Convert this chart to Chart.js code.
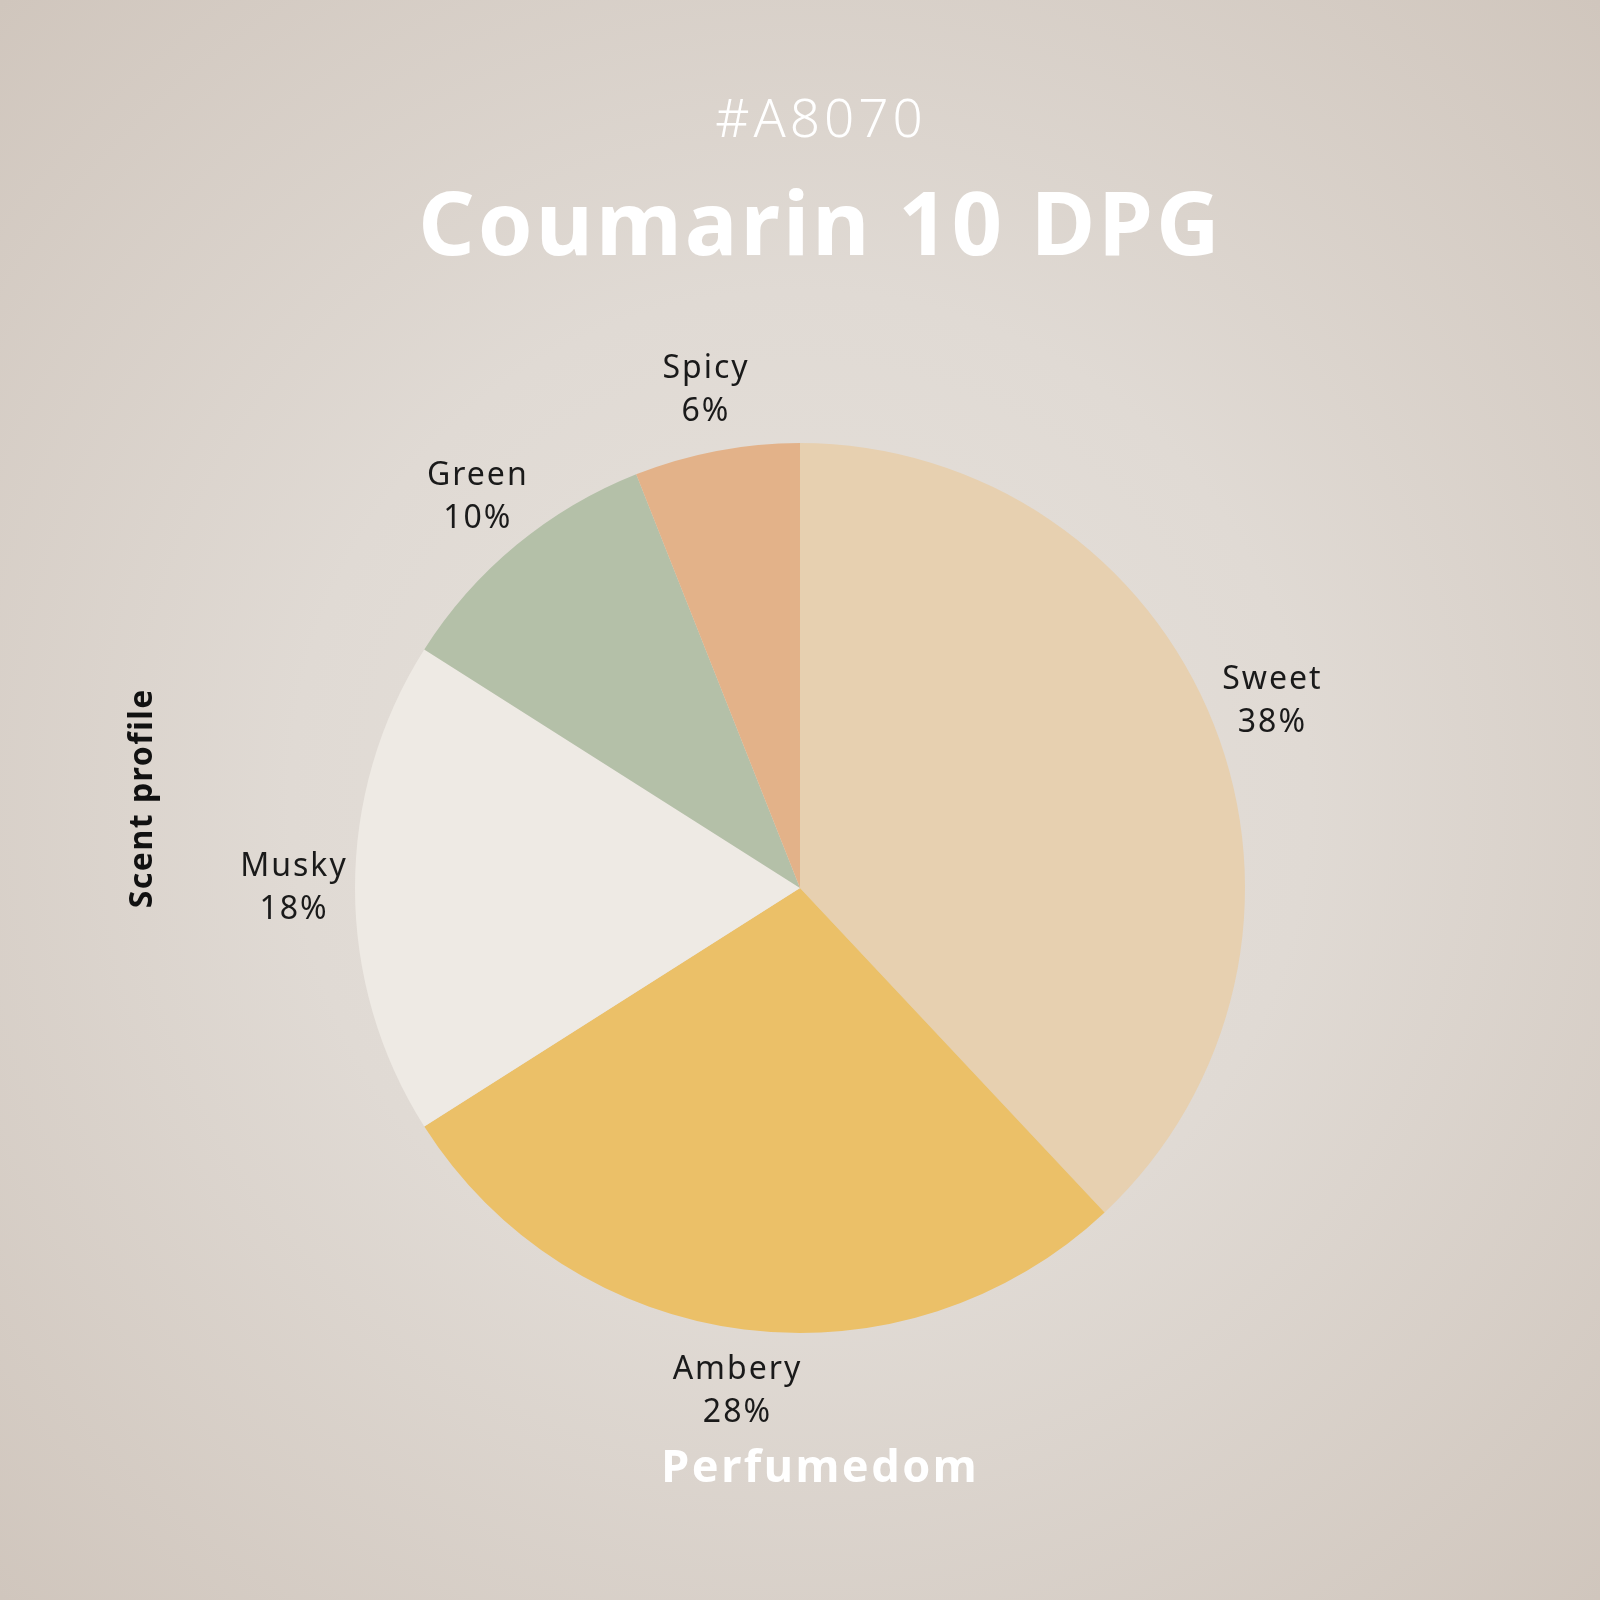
<!DOCTYPE html>
<html lang="en">
  <head>
    <meta charset="UTF-8" />
    <title>Coumarin 10 DPG</title>
    <script src="https://cdn.jsdelivr.net/npm/chart.js"></script>
    <style>
      html, body {
        margin: 0;
        padding: 0;
        background: #dcd5ce;
      }
      #wrap {
        width: 1600px;
        height: 1600px;
      }
    </style>
  </head>
  <body>
    <div id="wrap">
      <canvas id="scentChart" width="1600" height="1600"></canvas>
    </div>

    <script>
      // scent families and their share
      const labels = ["Sweet", "Ambery", "Musky", "Green", "Spicy"];
      const values = [38, 28, 18, 10, 6];
      const colors = ["#e7d0b0", "#ebc068", "#eeeae4", "#b4c0a8", "#e3b289"];

      const FONT = "'Noto Sans', 'Open Sans', sans-serif";

      // radial background
      const bgPlugin = {
        id: "bg",
        beforeDraw(chart) {
          const c = chart.ctx;
          const g = c.createRadialGradient(800, 800, 0, 800, 800, 1130);
          g.addColorStop(0, "#e6e1db");
          g.addColorStop(0.45, "#e0dad4");
          g.addColorStop(1, "#d0c6bd");
          c.save();
          c.fillStyle = g;
          c.fillRect(0, 0, chart.width, chart.height);
          c.restore();
        },
      };

      // centred text with letter spacing (trailing gap removed)
      function spaced(c, text, x, y, sp) {
        c.letterSpacing = sp + "px";
        c.fillText(text, x + sp / 2, y);
        c.letterSpacing = "0px";
      }

      // titles, side label and slice labels
      const textPlugin = {
        id: "texts",
        afterDraw(chart) {
          const c = chart.ctx;
          c.save();
          c.textAlign = "center";
          c.textBaseline = "middle";

          c.fillStyle = "#ffffff";
          c.font = "300 53px " + FONT;
          spaced(c, "#A8070", 819, 122, 4);
          c.font = "700 88px " + FONT;
          spaced(c, "Coumarin 10 DPG", 819, 230, 3);
          c.font = "700 45px " + FONT;
          spaced(c, "Perfumedom", 819, 1469, 2.5);

          c.save();
          c.translate(143, 799);
          c.rotate(-Math.PI / 2);
          c.fillStyle = "#111111";
          c.font = "700 32px " + FONT;
          spaced(c, "Scent profile", 0, 0, 1.5);
          c.restore();

          // slice labels outside the pie
          const meta = chart.getDatasetMeta(0);
          const total = values.reduce((a, b) => a + b, 0);
          c.fillStyle = "#1a1a1a";
          c.font = "400 32px " + FONT;
          meta.data.forEach((arc, i) => {
            const p = arc.getProps(["x", "y", "startAngle", "endAngle", "outerRadius"], true);
            const mid = (p.startAngle + p.endAngle) / 2;
            const r = p.outerRadius + 62;
            const x = p.x + Math.cos(mid) * r;
            const y = p.y + Math.sin(mid) * r;
            const pct = Math.round((values[i] / total) * 100) + "%";
            spaced(c, labels[i], x, y - 21, 2);
            spaced(c, pct, x, y + 22, 2);
          });
          c.restore();
        },
      };

      new Chart(document.getElementById("scentChart"), {
        type: "pie",
        data: {
          labels: labels,
          datasets: [
            {
              data: values,
              backgroundColor: colors,
              borderWidth: 0,
            },
          ],
        },
        options: {
          responsive: false,
          animation: false,
          layout: {
            padding: { left: 355, right: 355, top: 443, bottom: 267 },
          },
          plugins: {
            legend: { display: false },
            tooltip: { enabled: false },
          },
        },
        plugins: [bgPlugin, textPlugin],
      });
    </script>
  </body>
</html>
